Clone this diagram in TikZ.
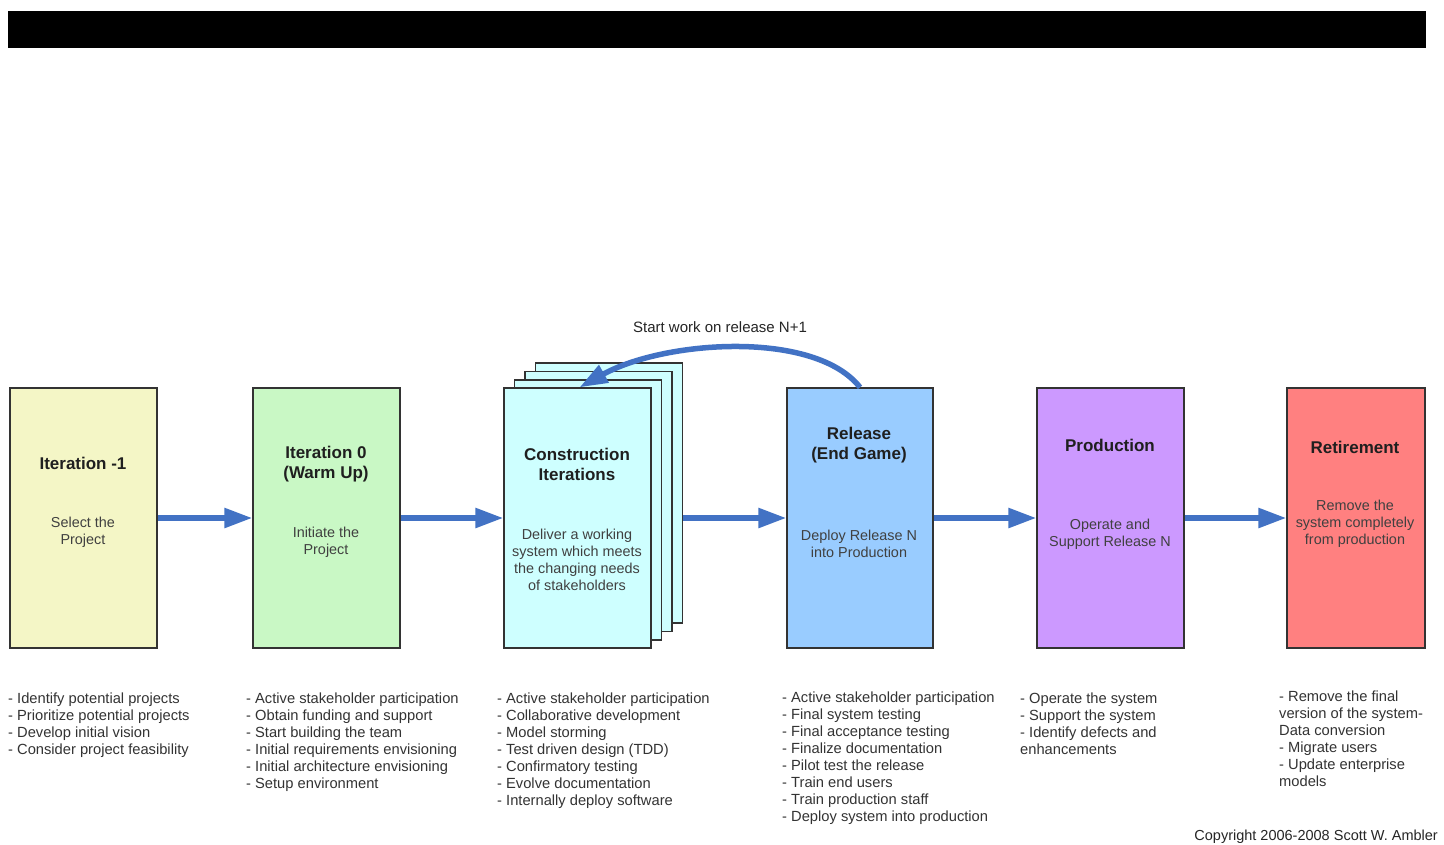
\documentclass[tikz,border=0pt]{standalone}
\usepackage{fontspec}
\setmainfont{Liberation Sans}
\usetikzlibrary{arrows.meta}
\definecolor{arrowblue}{RGB}{66,114,196}
\definecolor{cyel}{RGB}{244,246,198}
\definecolor{cgrn}{RGB}{201,248,197}
\definecolor{ccyn}{RGB}{206,255,255}
\definecolor{cblu}{RGB}{153,204,255}
\definecolor{cpur}{RGB}{204,153,255}
\definecolor{cred}{RGB}{255,128,128}
\tikzset{
  phase/.style={draw=black!80, line width=1.3pt, minimum width=147pt, minimum height=260pt, inner sep=0pt},
  ttl/.style={font=\fontsize{17}{20}\selectfont\bfseries, align=center, text=black!88, inner sep=0pt},
  body/.style={font=\fontsize{14.4}{17}\selectfont, align=center, text=black!75, inner sep=0pt},
  lst/.style={font=\fontsize{14.7}{17}\selectfont, align=left, anchor=north west, inner sep=0pt, text=black!80},
  flow/.style={-{Triangle[length=28pt,width=19pt]}, line width=5.5pt, draw=arrowblue},
}
\newcommand{\fs}{\rule{0pt}{12pt}}
\begin{document}
\begin{tikzpicture}[x=1pt,y=-1pt]
\fill[white] (0,0) rectangle (1444,844);
\useasboundingbox (0,0) rectangle (1444,844);
% top bar
\fill[black] (8,11) rectangle (1426,48);

% boxes
\node[phase, fill=cyel] (it1) at (83.5,518) {};
\node[phase, fill=cgrn] (it0) at (326.5,518) {};
\node[phase, fill=ccyn] (con4) at (609,493) {};
\node[phase, fill=ccyn] (con3) at (598.5,501.5) {};
\node[phase, fill=ccyn] (con2) at (588,510) {};
\node[phase, fill=ccyn] (con) at (577.5,518) {};
\node[phase, fill=cblu, minimum width=146pt] (rel) at (860,518) {};
\node[phase, fill=cpur] (prod) at (1110.5,518) {};
\node[phase, fill=cred, minimum width=138pt] (ret) at (1356,518) {};

% box texts
\node[ttl] (it1t) at (83,463) {Iteration -1};
\node[body] (it1b) at (83,532.5) {Select the\\Project};
\node[ttl] (it0t) at (326,464) {Iteration 0\\(Warm Up)};
\node[body] (it0b) at (326,542.5) {Initiate the\\Project};
\node[ttl] (cont) at (577,464) {Construction\\Iterations};
\node[body] (conb) at (577,560) {Deliver a working\\system which meets\\the changing needs\\of stakeholders};
\node[ttl] (relt) at (859,445) {Release\\(End Game)};
\node[body] (relb) at (859,544) {Deploy Release N\\into Production};
\node[ttl] (prodt) at (1110,445) {Production};
\node[body] (prodb) at (1110,534) {Operate and\\Support Release N};
\node[ttl] (rett) at (1355,447) {Retirement};
\node[body] (retb) at (1355,523.5) {Remove the\\system completely\\from production};

% flow arrows
\draw[flow] (it1.east) -- (it0.west);
\draw[flow] (it0.east) -- (con.west);
\draw[flow] (con4.east |- con.east) -- (rel.west);
\draw[flow] (rel.east) -- (prod.west);
\draw[flow] (prod.east) -- (ret.west);

% feedback arrow
\draw[flow] (rel.north) .. controls (815,330) and (665,340) .. ([xshift=2pt]con.north);
\node[font=\fontsize{15}{18}\selectfont, text=black!85] (lbl) at (720,327) {Start work on release N+1};

% lists
\node[lst] (l1) at (8,691) {\fs- Identify potential projects\\- Prioritize potential projects\\- Develop initial vision\\- Consider project feasibility};
\node[lst] (l2) at (246,691) {\fs- Active stakeholder participation\\- Obtain funding and support\\- Start building the team\\- Initial requirements envisioning\\- Initial architecture envisioning\\- Setup environment};
\node[lst] (l3) at (497,691) {\fs- Active stakeholder participation\\- Collaborative development\\- Model storming\\- Test driven design (TDD)\\- Confirmatory testing\\- Evolve documentation\\- Internally deploy software};
\node[lst] (l4) at (782,690) {\fs- Active stakeholder participation\\- Final system testing\\- Final acceptance testing\\- Finalize documentation\\- Pilot test the release\\- Train end users\\- Train production staff\\- Deploy system into production};
\node[lst] (l5) at (1020,691) {\fs- Operate the system\\- Support the system\\- Identify defects and\\enhancements};
\node[lst] (l6) at (1279,689) {\fs- Remove the final\\version of the system-\\Data conversion\\- Migrate users\\- Update enterprise\\models};

\node[font=\fontsize{14.5}{17}\selectfont, text=black!85, anchor=east, inner sep=0pt] (copy) at (1438,837) {Copyright 2006-2008 Scott W. Ambler};
\end{tikzpicture}
\end{document}
